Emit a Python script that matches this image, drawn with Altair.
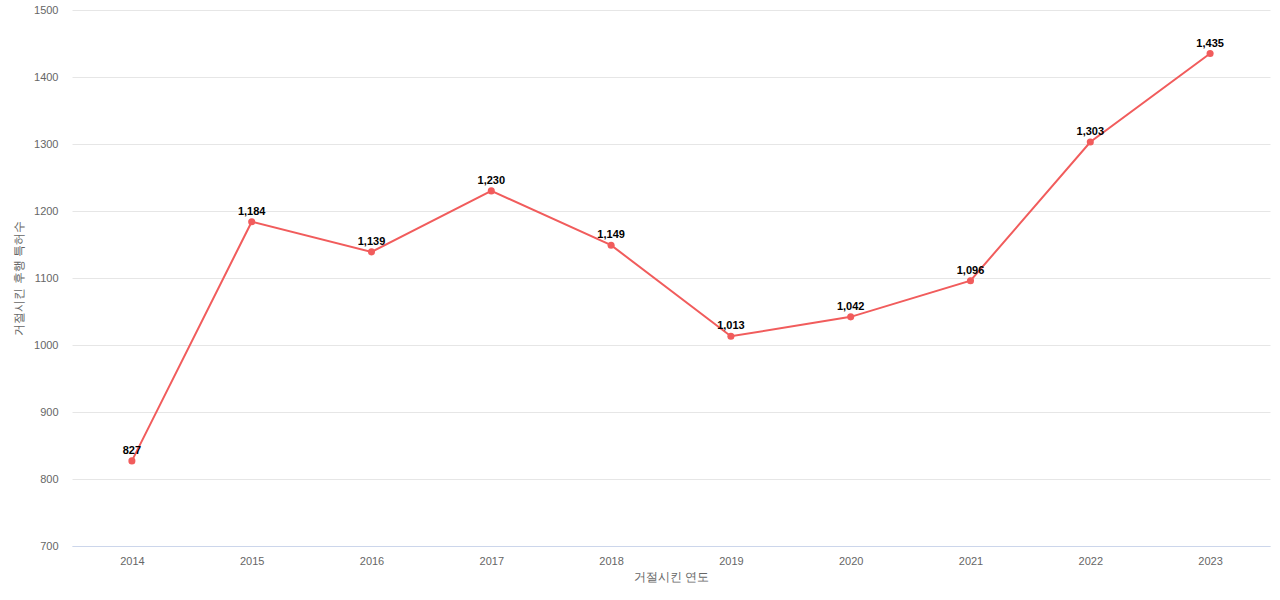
import altair as alt
import pandas as pd

years = ["2014", "2015", "2016", "2017", "2018", "2019", "2020", "2021", "2022", "2023"]
counts = [827, 1184, 1139, 1230, 1149, 1013, 1042, 1096, 1303, 1435]

df = pd.DataFrame({"year": years, "count": counts})

FONT = "Liberation Sans"

x = alt.X("year:O", title="거절시킨 연도",
          scale=alt.Scale(type="point", padding=0.5),
          axis=alt.Axis(labelAngle=0, labelFontSize=11, labelColor="#666666", labelFont=FONT,
                        titleFontSize=12, titleColor="#666666", titleFontWeight="normal",
                        titleFont=FONT,
                        domainColor="#ccd6eb", ticks=False, labelPadding=9, titlePadding=5,
                        grid=False))
y = alt.Y("count:Q", title="거절시킨 후행 특허수",
          scale=alt.Scale(domain=[700, 1500], nice=False, zero=False),
          axis=alt.Axis(values=list(range(700, 1501, 100)), format="d",
                        labelFontSize=11, labelColor="#666666", labelFont=FONT,
                        titleFontSize=12, titleColor="#666666", titleFontWeight="normal",
                        titleFont=FONT,
                        domain=False, ticks=False, gridColor="#e6e6e6", labelPadding=14,
                        titlePadding=8))

base = alt.Chart(df).encode(x=x, y=y)
line = base.mark_line(color="#f15c5c", strokeWidth=2)
pts = base.mark_circle(color="#f15c5c", size=50, opacity=1)
labels = base.mark_text(dy=-10, fontSize=11, fontWeight="bold", color="#000000", font=FONT).encode(
    text=alt.Text("count:Q", format=",")
)

chart = (line + pts + labels).properties(
    width=1198, height=536,
    autosize=alt.AutoSizeParams(type="none"),
    padding={"left": 72, "top": 10, "right": 10, "bottom": 54},
).configure_view(strokeWidth=0, stroke="transparent")

chart.save("out.html", embed_options={"renderer": "svg", "actions": False})
